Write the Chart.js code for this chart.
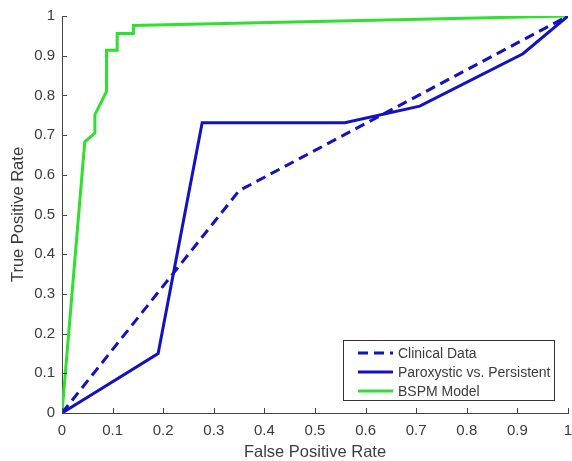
<!DOCTYPE html>
<html>
<head>
<meta charset="utf-8">
<script src="https://cdn.jsdelivr.net/npm/chart.js@4.4.0/dist/chart.umd.min.js"></script>
<style>
  html, body { margin: 0; padding: 0; background: #fff; }
  #wrap { width: 572px; height: 461px; }
</style>
</head>
<body>
<div id="wrap"><canvas id="roc"></canvas></div>
<script>
// curvas ROC
const clinicoX = [0, 0.35, 1];
const clinicoY = [0, 0.56, 1];

const paroxX = [0, 0.19, 0.277, 0.559, 0.707, 0.911, 1];
const paroxY = [0, 0.15, 0.731, 0.731, 0.773, 0.905, 1];

const bspmX = [0, 0.045, 0.065, 0.065, 0.088, 0.088, 0.109, 0.109, 0.141, 0.141, 1];
const bspmY = [0, 0.683, 0.705, 0.751, 0.81, 0.914, 0.914, 0.956, 0.956, 0.976, 1];

const ticks = [0, 0.1, 0.2, 0.3, 0.4, 0.5, 0.6, 0.7, 0.8, 0.9, 1];
const tickLabels = ['0', '0.1', '0.2', '0.3', '0.4', '0.5', '0.6', '0.7', '0.8', '0.9', '1'];

const nombres = ['Clinical Data', 'Paroxystic vs. Persistent', 'BSPM Model'];
const AZUL = '#1212c4';
const VERDE = '#2fe02f';
const TEXTO = '#3c3c3c';
const FUENTE = '"Liberation Sans", Arial, sans-serif';

function puntos(xs, ys) {
    return xs.map((x, i) => ({ x: x, y: ys[i] }));
}

// ticks hacia adentro + leyenda dentro del area (estilo matlab)
const extras = {
    id: 'extras',
    afterDraw(chart) {
        const ctx = chart.ctx;
        const a = chart.chartArea;
        const sx = chart.scales.x, sy = chart.scales.y;
        ctx.save();
        ctx.strokeStyle = '#444';
        ctx.lineWidth = 1;
        ticks.forEach(v => {
            let px = Math.round(sx.getPixelForValue(v)) + 0.5;
            ctx.beginPath(); ctx.moveTo(px, a.bottom); ctx.lineTo(px, a.bottom - 5); ctx.stroke();
            let py = Math.round(sy.getPixelForValue(v)) + 0.5;
            ctx.beginPath(); ctx.moveTo(a.left, py); ctx.lineTo(a.left + 5, py); ctx.stroke();
        });

        // leyenda
        let bx = 343, by = 340, bw = 211, bh = 60;
        ctx.fillStyle = '#fff';
        ctx.fillRect(bx, by, bw, bh);
        ctx.strokeStyle = '#333';
        ctx.strokeRect(bx + 0.5, by + 0.5, bw, bh);
        const estilos = [[AZUL, [10, 6]], [AZUL, []], [VERDE, []]];
        ctx.font = '14px ' + FUENTE;
        ctx.textBaseline = 'middle';
        nombres.forEach((n, i) => {
            let y = by + 13 + i * 19;
            ctx.strokeStyle = estilos[i][0];
            ctx.lineWidth = 3;
            ctx.setLineDash(estilos[i][1]);
            ctx.beginPath(); ctx.moveTo(bx + 15, y); ctx.lineTo(bx + 50, y); ctx.stroke();
            ctx.setLineDash([]);
            ctx.fillStyle = TEXTO;
            ctx.fillText(n, bx + 55, y + 1);
        });
        ctx.restore();
    }
};

const ctx = document.getElementById('roc').getContext('2d');
new Chart(ctx, {
    type: 'scatter',
    data: {
        datasets: [
            { label: nombres[0], data: puntos(clinicoX, clinicoY), showLine: true, borderColor: AZUL,
              borderWidth: 3, borderDash: [10, 6], pointRadius: 0, fill: false, tension: 0 },
            { label: nombres[1], data: puntos(paroxX, paroxY), showLine: true, borderColor: AZUL,
              borderWidth: 3, pointRadius: 0, fill: false, tension: 0 },
            { label: nombres[2], data: puntos(bspmX, bspmY), showLine: true, borderColor: VERDE,
              borderWidth: 3, pointRadius: 0, fill: false, tension: 0 }
        ]
    },
    options: {
        responsive: true,
        maintainAspectRatio: false,
        animation: false,
        layout: { padding: { top: 16, right: 4, left: 0, bottom: 0 } },
        plugins: { legend: { display: false }, tooltip: { enabled: false } },
        scales: {
            x: {
                type: 'linear', min: 0, max: 1,
                afterBuildTicks: s => { s.ticks = ticks.map(v => ({ value: v })); },
                afterFit: s => { s.height = 48; s.paddingLeft = 0; s.paddingRight = 0; },
                grid: { drawOnChartArea: false, drawTicks: false },
                border: { display: true, color: '#444', width: 1 },
                ticks: { padding: 9, color: TEXTO, font: { family: FUENTE, size: 15 },
                         callback: (v, i) => tickLabels[i], maxRotation: 0 },
                title: { display: true, text: 'False Positive Rate', color: TEXTO,
                         font: { family: FUENTE, size: 16.5, lineHeight: 1 }, padding: { top: 0, bottom: 0 } }
            },
            y: {
                type: 'linear', min: 0, max: 1,
                afterBuildTicks: s => { s.ticks = ticks.map(v => ({ value: v })); },
                afterFit: s => { s.width = 62; s.paddingTop = 0; s.paddingBottom = 0; },
                grid: { drawOnChartArea: false, drawTicks: false },
                border: { display: true, color: '#444', width: 1 },
                ticks: { padding: 7, color: TEXTO, font: { family: FUENTE, size: 15 },
                         callback: (v, i) => tickLabels[i] },
                title: { display: true, text: 'True Positive Rate', color: TEXTO,
                         font: { family: FUENTE, size: 16.5, lineHeight: 1 }, padding: { top: 10, bottom: 0 } }
            }
        }
    },
    plugins: [extras]
});
</script>
</body>
</html>
